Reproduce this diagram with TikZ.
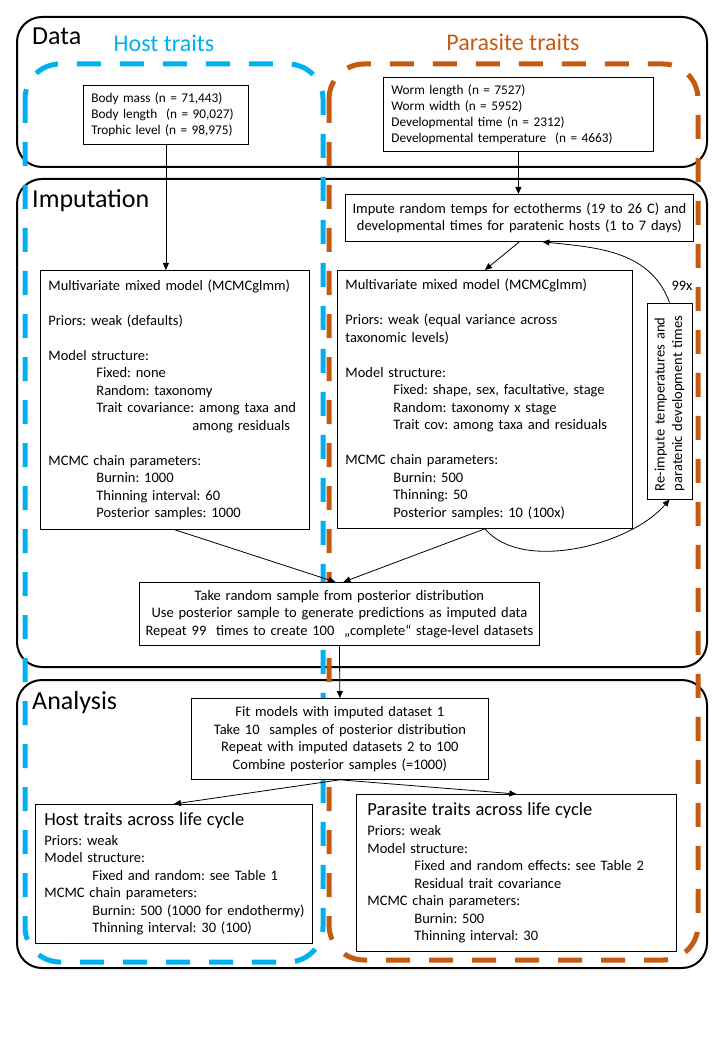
\documentclass[tikz,border=0pt]{standalone}
\usepackage{fontspec}
\setmainfont{Carlito}
\usepackage{xcolor}
\usepackage{tikz}
\usetikzlibrary{arrows, arrows.meta}
\usetikzlibrary{positioning}
\usetikzlibrary{calc}
\definecolor{hostblue}{HTML}{00B0F0}
\definecolor{paraorange}{HTML}{C55A11}
\frenchspacing

\begin{document}
\begin{tikzpicture}[x=1pt, y=1pt,
	panel/.style={draw=black, line width=2pt, rounded corners=25pt},
	hostzone/.style={draw=hostblue, line width=5pt, dash pattern=on 24pt off 19pt, rounded corners=35pt},
	parazone/.style={draw=paraorange, line width=5pt, dash pattern=on 24pt off 19pt, rounded corners=35pt},
	box/.style={draw=black, fill=white, line width=0.8pt, inner ysep=0pt, font=\fontsize{14.5}{17.5}\selectfont},
	leftbox/.style={box, anchor=north west, align=left},
	midbox/.style={box, anchor=north west, align=center},
	arr/.style={-{Triangle[length=7pt, width=6pt]}, line width=0.8pt},
	heading/.style={anchor=base west, inner sep=0pt, font=\fontsize{26}{30}\selectfont},
	zonelabel/.style={anchor=base, inner sep=0pt, font=\fontsize{24}{28}\selectfont},
	]
	\newcommand\indOne{\hspace*{48pt}}
	\newcommand\gapOne{17.5pt}
	\useasboundingbox (0,0) rectangle (720,-1040);
	% stage panels
	\draw[panel] (17,-17) rectangle (707,-167);
	\draw[panel] (17,-179) rectangle (707,-667);
	\draw[panel] (17,-680) rectangle (707,-968);
	\node[heading] (datalbl) at (32,-45) {Data};
	\node[heading] (implbl) at (32,-208) {Imputation};
	\node[heading] (analbl) at (32,-709) {Analysis};
	% trait zones
	\draw[hostzone] (25,-64) rectangle (323,-962);
	\draw[parazone] (329,-64) rectangle (698,-960);
	\node[zonelabel, text=hostblue] (hostlbl) at (164,-52) {Host traits};
	\node[zonelabel, text=paraorange] (paralbl) at (513,-51) {Parasite traits};
	% data
	\node[leftbox, font=\fontsize{13.3}{16}\selectfont, minimum width=165pt, minimum height=59pt, text width=149pt, inner xsep=8pt] (hdata) at (83,-85)
		{Body mass (n = 71,443)\\Body length\ \ (n = 90,027)\\Trophic level (n = 98,975)};
	\node[leftbox, font=\fontsize{13.3}{16}\selectfont, minimum width=270pt, minimum height=74pt, text width=254pt, inner xsep=8pt] (pdata) at (383,-77)
		{Worm length (n = 7527)\\Worm width (n = 5952)\\Developmental time (n = 2312)\\Developmental temperature\ \ (n = 4663)};
	% imputation
	\node[midbox, minimum width=348pt, minimum height=47pt, text width=338pt, inner xsep=5pt] (impute) at (345,-194)
		{Impute random temps for ectotherms (19 to 26 C) and\\developmental times for paratenic hosts (1 to 7 days)};
	\node[leftbox, minimum width=269pt, minimum height=259pt, text width=253pt, inner xsep=8pt] (hmcmc) at (40,-270)
		{Multivariate mixed model (MCMCglmm)\\[\gapOne]
		Priors: weak (defaults)\\[\gapOne]
		Model structure:\\
		\indOne Fixed: none\\
		\indOne Random: taxonomy\\
		\indOne Trait covariance: among taxa and\\
		\hspace*{144pt}among residuals\\[\gapOne]
		MCMC chain parameters:\\
		\indOne Burnin: 1000\\
		\indOne Thinning interval: 60\\
		\indOne Posterior samples: 1000};
	\node[leftbox, minimum width=295pt, minimum height=258pt, text width=279pt, inner xsep=8pt] (pmcmc) at (337,-270)
		{Multivariate mixed model (MCMCglmm)\\[\gapOne]
		Priors: weak (equal variance across\\
		taxonomic levels)\\[\gapOne]
		Model structure:\\
		\indOne Fixed: shape, sex, facultative, stage\\
		\indOne Random: taxonomy x stage\\
		\indOne Trait cov: among taxa and residuals\\[\gapOne]
		MCMC chain parameters:\\
		\indOne Burnin: 500\\
		\indOne Thinning: 50\\
		\indOne Posterior samples: 10 (100x)};
	\node[box, rotate=90, align=left, minimum width=196pt, minimum height=45pt, text width=180pt, inner xsep=8pt] (reimp) at (669.5,-401)
		{Re-impute temperatures and\\paratenic development times};
	\node[font=\fontsize{14.5}{17.5}\selectfont, inner sep=0pt] (loops) at (682,-286) {99x};
	\node[midbox, minimum width=400pt, minimum height=63pt, text width=390pt, inner xsep=5pt] (takes) at (139,-582)
		{Take random sample from posterior distribution\\
		Use posterior sample to generate predictions as imputed data\\
		Repeat 99\ \ times to create 100\ \ „complete“ stage-level datasets};
	% analysis
	\node[midbox, minimum width=297pt, minimum height=81pt, text width=287pt, inner xsep=5pt] (fitm) at (191,-698)
		{Fit models with imputed dataset 1\\
		Take 10\ \ samples of posterior distribution\\
		Repeat with imputed datasets 2 to 100\\
		Combine posterior samples (=1000)};
	\node[leftbox, minimum width=277pt, minimum height=139pt, text width=267pt, inner xsep=5pt] (hana) at (35,-804)
		{\hspace*{4pt}{\fontsize{18.5}{20}\selectfont Host traits across life cycle}\\[2.5pt]
		\hspace*{4pt}Priors: weak\\
		\hspace*{4pt}Model structure:\\
		\hspace*{52pt}Fixed and random: see Table 1\\
		\hspace*{4pt}MCMC chain parameters:\\
		\hspace*{52pt}Burnin: 500 (1000 for endothermy)\\
		\hspace*{52pt}Thinning interval: 30 (100)};
	\node[leftbox, minimum width=320pt, minimum height=157pt, text width=304pt, inner xsep=8pt] (pana) at (356,-794)
		{\hspace*{3pt}{\fontsize{18.5}{20}\selectfont Parasite traits across life cycle}\\[2.5pt]
		\hspace*{3pt}Priors: weak\\
		\hspace*{3pt}Model structure:\\
		\hspace*{50pt}Fixed and random effects: see Table 2\\
		\hspace*{50pt}Residual trait covariance\\
		\hspace*{3pt}MCMC chain parameters:\\
		\hspace*{50pt}Burnin: 500\\
		\hspace*{50pt}Thinning interval: 30};
	% connectors
	\draw[arr] (hdata.south) -- (hdata.south |- hmcmc.north);
	\draw[arr] (pdata.south) -- (pdata.south |- impute.north);
	\draw[arr] (impute.south) -- (pmcmc.north);
	\draw[arr] (reimp.east) to[out=110, in=-6] ([xshift=23pt]impute.south);
	\draw[arr] (pmcmc.south) to[out=-50, in=-130, looseness=0.8] (reimp.west);
	\draw[arr] (hmcmc.south) -- ([xshift=-4pt]takes.north);
	\draw[arr] (pmcmc.south) -- ([xshift=4pt]takes.north);
	\draw[arr] (takes.south) -- (fitm.north);
	\draw[arr] (fitm.south) -- (hana.north);
	\draw[arr] (fitm.south) -- (pana.north);
\end{tikzpicture}
\end{document}
